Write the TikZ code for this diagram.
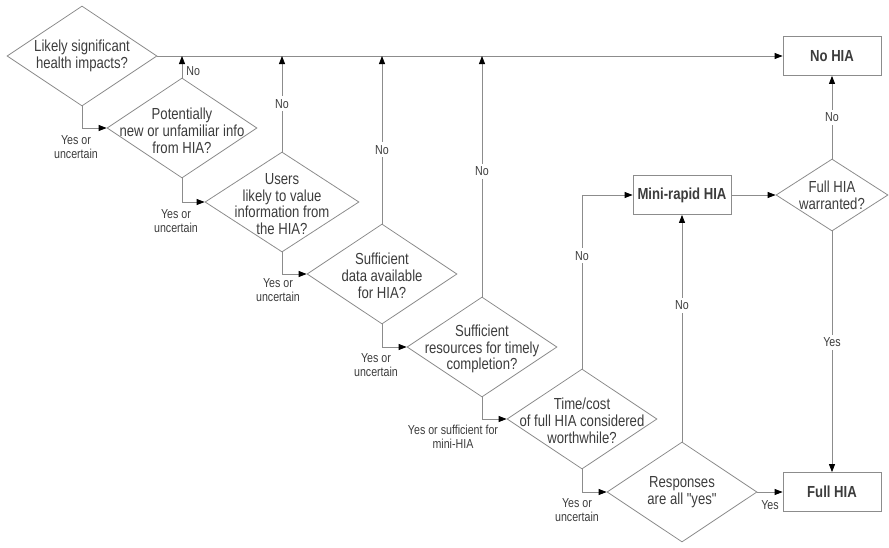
\documentclass[tikz,border=0pt]{standalone}
\usepackage{fontspec}
\setmainfont[FakeStretch=0.82, Ligatures=TeXOff]{Liberation Sans}
\usetikzlibrary{shapes.geometric,arrows.meta}
\definecolor{edge}{HTML}{8C8C8C}
\definecolor{ink}{HTML}{3C3C3C}
\begin{document}
\begin{tikzpicture}[x=1pt,y=-1pt,
  dia/.style={diamond, draw=edge, line width=0.8pt, minimum width=150pt, minimum height=100pt, inner sep=0pt},
  dtext/.style={align=center, text=ink, font=\fontsize{16}{16.8}\selectfont, inner sep=0pt},
  outbox/.style={rectangle, draw=edge, line width=0.8pt, minimum width=98pt, minimum height=39pt, text=ink, font=\fontsize{16}{16.8}\selectfont\bfseries},
  lab/.style={align=center, text=ink, font=\fontsize{13}{14.5}\selectfont, inner sep=1pt},
  onlab/.style={lab, fill=white, inner sep=3pt},
  arr/.style={draw=edge, line width=0.8pt, -{Triangle[length=8pt,width=6pt,color=black]}}]
\useasboundingbox (0,0) rectangle (889,547);

% decision diamonds
\node[dia, label={[dtext]center:{Likely significant\\health impacts?}}] (d1) at (82,56) {};
\node[dia, label={[dtext, yshift=-3pt]center:{Potentially\\new or unfamiliar info\\from HIA?}}] (d2) at (182,128) {};
\node[dia, minimum width=154pt, label={[dtext, yshift=-2pt]center:{Users\\likely to value\\information from\\the HIA?}}] (d3) at (282,202) {};
\node[dia, label={[dtext, yshift=-2pt]center:{Sufficient\\data available\\for HIA?}}] (d4) at (382,274) {};
\node[dia, label={[dtext, yshift=-2pt]center:{Sufficient\\resources for timely\\completion?}}] (d5) at (482,347) {};
\node[dia, label={[dtext, yshift=-2pt]center:{Time/cost\\of full HIA considered\\worthwhile?}}] (d6) at (582,419) {};
\node[dia, label={[dtext]center:{Responses\\are all "yes"}}] (d7) at (682,492) {};
\node[dia, minimum width=112pt, minimum height=72pt, label={[dtext]center:{Full HIA\\warranted?}}] (d8) at (832,195) {};

% outcome boxes
\node[outbox] (nohia) at (832,56) {No HIA};
\node[outbox] (mini) at (682,195) {Mini-rapid HIA};
\node[outbox] (full) at (832,492) {Full HIA};

% "No" exits up to the top line
\draw[arr] (d1.east) -- (nohia.west);
\coordinate (j2) at (d2.north |- d1.east);
\coordinate (j3) at (d3.north |- d1.east);
\coordinate (j4) at (d4.north |- d1.east);
\coordinate (j5) at (d5.north |- d1.east);
\draw[arr] (d2.north) -- node[lab, anchor=west, pos=0.3, xshift=3pt] (n2) {No} (j2);
\draw[arr] (d3.north) -- node[onlab, pos=0.5] (n3) {No} (j3);
\draw[arr] (d4.north) -- node[onlab, pos=0.44] (n4) {No} (j4);
\draw[arr] (d5.north) -- node[onlab, pos=0.52] (n5) {No} (j5);
\draw[arr] (d6.north) |- node[onlab, pos=0.325] (n6) {No} (mini.west);
\draw[arr] (d7.north) -- node[onlab, pos=0.6] (n7) {No} (mini.south);
\draw[arr] (mini.east) -- (d8.west);
\draw[arr] (d8.north) -- node[onlab, pos=0.5] (n8) {No} (nohia.south);
\draw[arr] (d8.south) -- node[onlab, pos=0.46] (y8) {Yes} (full.north);
\draw[arr] (d7.east) -- node[lab, below=7pt] (y7) {Yes} (full.west);

% "Yes" exits down the cascade
\draw[arr] (d1.south) |- (d2.west);
\draw[arr] (d2.south) |- (d3.west);
\draw[arr] (d3.south) |- (d4.west);
\draw[arr] (d4.south) |- (d5.west);
\draw[arr] (d5.south) |- (d6.west);
\draw[arr] (d6.south) |- (d7.west);
\node[lab] (y1) at (76,147) {Yes or\\uncertain};
\node[lab] (y2) at (176,221) {Yes or\\uncertain};
\node[lab] (y3) at (278,290) {Yes or\\uncertain};
\node[lab] (y4) at (376,365) {Yes or\\uncertain};
\node[lab] (y5) at (453,437) {Yes or sufficient for\\mini-HIA};
\node[lab] (y6) at (577,510) {Yes or\\uncertain};
\end{tikzpicture}
\end{document}
